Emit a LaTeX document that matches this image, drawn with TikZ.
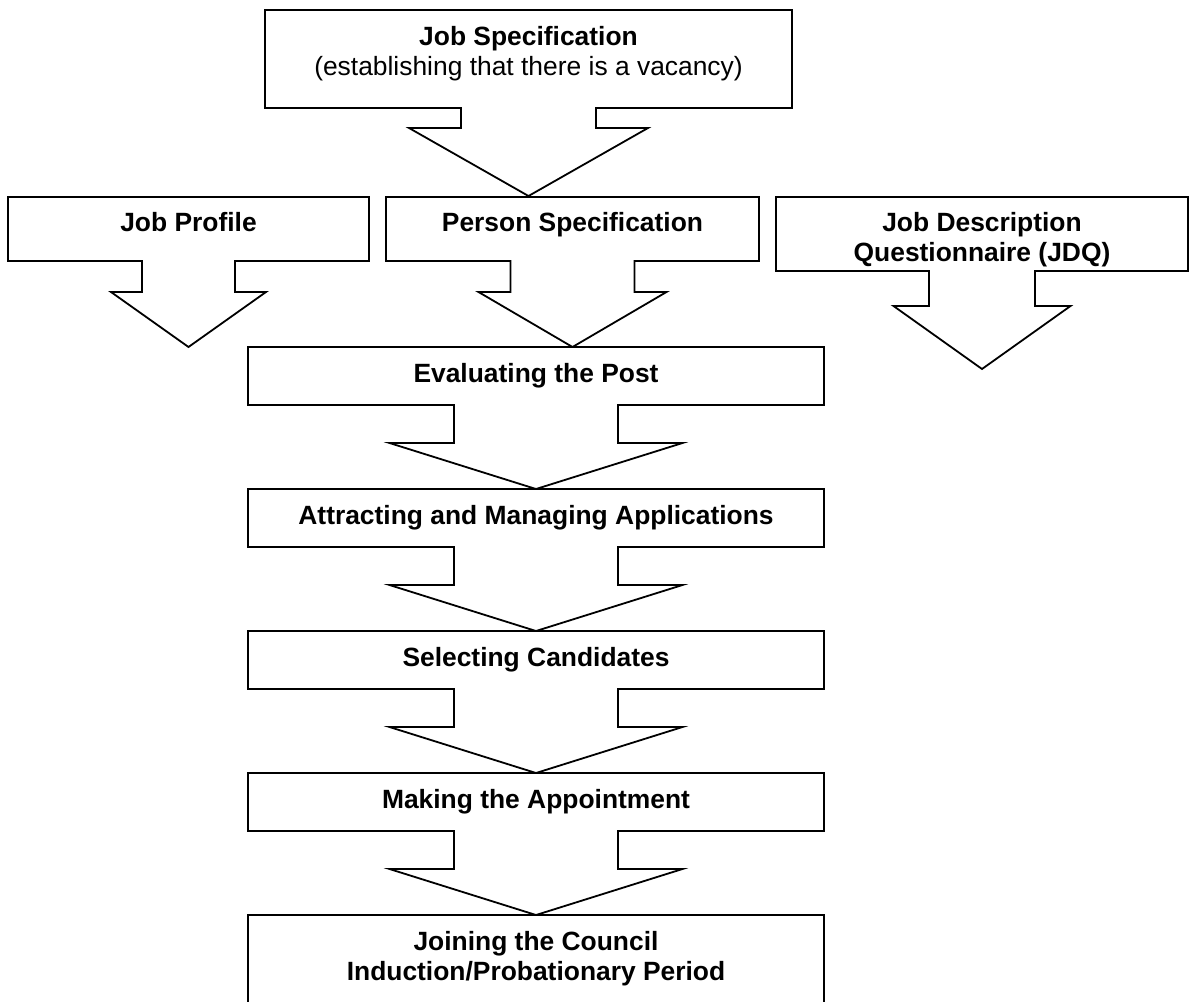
\documentclass[tikz,border=0pt]{standalone}
\usepackage{fontspec}
\setmainfont{Liberation Sans}
% box with a downward block arrow under its middle:
% #1 left, #2 top, #3 right, #4 bottom, #5 stem half width,
% #6 stem end y, #7 head half width, #8 tip y
\newcommand{\drawcallout}[8]{%
  \pgfmathsetmacro\cxmid{(#1+#3)/2}%
  \draw[outline] (#1,#2) -- (#3,#2) -- (#3,#4) -- (\cxmid+#5,#4) -- (\cxmid+#5,#6)
    -- (\cxmid+#7,#6) -- (\cxmid,#8) -- (\cxmid-#7,#6) -- (\cxmid-#5,#6)
    -- (\cxmid-#5,#4) -- (#1,#4) -- cycle;}
\begin{document}
\begin{tikzpicture}[x=1pt,y=-1pt,
  outline/.style={draw=black, line width=1.8pt, fill=white, line join=miter},
  lbl/.style={anchor=north, inner sep=0pt, align=center,
    font=\fontsize{26.4}{30}\selectfont}]
\useasboundingbox (0,0) rectangle (1190,1001);

% top box and the three boxes below it
\drawcallout{265}{10}{792}{108}{67.5}{128}{119.5}{196}
\drawcallout{8}{197}{369}{261}{46.5}{292}{77.5}{347}
\drawcallout{386}{197}{759}{261}{62}{292}{94}{347}
\drawcallout{776}{197}{1188}{271}{53}{306}{88.5}{369}

% main column
\drawcallout{248}{347}{824}{405}{82}{443}{146.5}{489}
\drawcallout{248}{489}{824}{547}{82}{585}{146.5}{631}
\drawcallout{248}{631}{824}{689}{82}{727}{146.5}{773}
\drawcallout{248}{773}{824}{831}{82}{869}{146.5}{915}
\draw[outline, fill=none] (248,1010) -- (248,915) -- (824,915) -- (824,1010);

\node[lbl] (jobspec) at (528.5,26)
  {\textbf{Job Specification}\\(establishing that there is a vacancy)};
\node[lbl] (jobprofile) at (188.5,212) {\textbf{Job Profile}};
\node[lbl] (personspec) at (572.5,212) {\textbf{Person Specification}};
\node[lbl] (jdq) at (982,212) {\textbf{Job Description}\\\textbf{Questionnaire (JDQ)}};
\node[lbl] (evaluate) at (536,363) {\textbf{Evaluating the Post}};
\node[lbl] (attract) at (536,505) {\textbf{Attracting and Managing Applications}};
\node[lbl] (select) at (536,647) {\textbf{Selecting Candidates}};
\node[lbl] (appoint) at (536,789) {\textbf{Making the Appointment}};
\node[lbl] (join) at (536,931)
  {\textbf{Joining the Council}\\\textbf{Induction/Probationary Period}};
\end{tikzpicture}
\end{document}
